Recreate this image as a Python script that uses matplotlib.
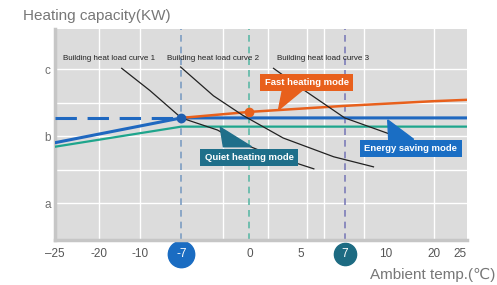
import numpy as np
import matplotlib
matplotlib.use("Agg")
import matplotlib.pyplot as plt
from matplotlib.patches import Polygon

plt.rcParams['font.family'] = ['Liberation Sans', 'DejaVu Sans']

# x axis of the source is not linear: every tick sits at its own spot
tick_temps = [-25, -20, -10, -7, 0, 5, 7, 10, 20, 25]
tick_labels = ['\u201325', '-20', '-10', '-7', '0', '5', '7', '10', '20', '25']
tick_pos = [0, 44, 85, 126, 194, 245, 289, 330, 378, 411]  # px from plot left edge
grid_temps = [-20, -10, -2.7, 1.8, 5.3, 6.05, 8.4, 20]

cap_levels = [1, 2, 3]
cap_labels = ['a', 'b', 'c']

# operating modes
quiet_t = [-25, -7, 25]
quiet_v = [1.84, 2.14, 2.14]
energy_t = [-25, -7, 25]
energy_v = [1.90, 2.27, 2.27]
energy_dash_t = [-25, -7]
energy_dash_v = [2.27, 2.27]
fast_t = [-7, 0, 7, 20, 25]
fast_v = [2.27, 2.36, 2.45, 2.52, 2.54]

# building heat load curves
curve1_t = [-14.5, -9.3, -7, -3.3, -0.93, 2.06, 5.6]
curve1_v = [3.01, 2.68, 2.27, 2.09, 1.90, 1.72, 1.51]
curve2_t = [-7.05, -3.7, -0.7, 3.3, 6.5, 9.1]
curve2_v = [3.03, 2.60, 2.31, 1.97, 1.69, 1.54]
curve3_t = [2.35, 5, 7, 10.4, 17.3]
curve3_v = [3.01, 2.72, 2.27, 2.04, 1.87]

BLUE = '#1f68c0'
TEAL = '#1f6f8a'
GREEN = '#1ea58c'
ORANGE = '#e8601c'


def fwd(t):
    return np.interp(t, tick_temps, tick_pos)


def inv(p):
    return np.interp(p, tick_pos, tick_temps)


fig = plt.figure(figsize=(4.97, 2.85), dpi=100)
ax = fig.add_axes([55 / 497, 1 - 240 / 285, 412 / 497, 211 / 285])
ax.set_xscale('function', functions=(fwd, inv))
ax.set_xlim(-25, 25)
ax.set_ylim(0.448, 3.597)
ax.set_facecolor('#dcdcdc')

for s in ['top', 'right']:
    ax.spines[s].set_visible(False)
for s in ['left', 'bottom']:
    ax.spines[s].set_color('#c6c6c6')
    ax.spines[s].set_linewidth(2.5)

# grid
ax.set_yticks(cap_levels, labels=cap_labels)
ax.set_yticks([1.5, 2.5], minor=True)
ax.grid(axis='y', which='both', color='white', lw=1.0)
for g in grid_temps:
    ax.axvline(g, color='white', lw=1.0, zorder=1)

ax.set_xticks(tick_temps, labels=tick_labels)
ax.xaxis.set_minor_locator(matplotlib.ticker.NullLocator())
ax.tick_params(axis='x', length=0, pad=5.5, labelsize=8.5, labelcolor='#555555')
ax.tick_params(axis='y', which='both', length=0, pad=3, labelsize=8.5, labelcolor='#707070')
for lab in ax.get_xticklabels():
    if lab.get_text() in ('-7', '7'):
        lab.set_color('white')
    if lab.get_text() == '25':
        lab.set_horizontalalignment('right')

# highlighted temperatures
ax.axvline(-7, color='#7c9dc2', lw=1.2, ls=(0, (4, 3)), zorder=2)
ax.axvline(0, color='#5db8a6', lw=1.2, ls=(0, (4, 3)), zorder=2)
ax.axvline(7, color='#7d7db8', lw=1.2, ls=(0, (4, 3)), zorder=2)
xt = ax.get_xaxis_transform()
ax.plot([-7], [-0.066], 'o', ms=19, color='#1a6cc2', transform=xt, clip_on=False, zorder=1.2)
ax.plot([7], [-0.066], 'o', ms=16, color='#1d6b82', transform=xt, clip_on=False, zorder=1.2)

# mode lines
ax.plot(quiet_t, quiet_v, color=GREEN, lw=1.6, zorder=3)
ax.plot(energy_dash_t, energy_dash_v, color=BLUE, lw=2.2, ls=(0, (7, 3.5)), zorder=3)
ax.plot(energy_t, energy_v, color=BLUE, lw=2.2, zorder=3)
ax.plot(fast_t, fast_v, color=ORANGE, lw=1.8, zorder=3.2)
ax.plot([-7], [2.27], 'o', ms=6, color='#1f5fb0', zorder=4)
ax.plot([0], [2.36], 'o', ms=6, color=ORANGE, zorder=4)

for ct, cv in [(curve1_t, curve1_v), (curve2_t, curve2_v), (curve3_t, curve3_v)]:
    ax.plot(ct, cv, color='#222222', lw=0.9, zorder=3.5)

ax.text(-17.6, 3.16, 'Building heat load curve 1', fontsize=5.8, ha='center', va='center', color='#222222')
ax.text(-3.7, 3.16, 'Building heat load curve 2', fontsize=5.8, ha='center', va='center', color='#222222')
ax.text(6.0, 3.16, 'Building heat load curve 3', fontsize=5.8, ha='center', va='center', color='#222222')

# callouts
callouts = [
    ('Fast heating mode', 5.27, 2.80, ORANGE, [(2.84, 2.39), (3.24, 2.70), (5.14, 2.70)]),
    ('Quiet heating mode', -0.05, 1.68, TEAL, [(-3.0, 2.13), (-2.68, 1.84), (0.2, 1.84)]),
    ('Energy saving mode', 15.2, 1.81, '#1a6ec4', [(10.4, 2.24), (10.6, 1.95), (15.8, 1.95)]),
]
for txt, cx, cy, col, tri in callouts:
    ax.add_patch(Polygon(tri, closed=True, color=col, zorder=5))
    ax.text(cx, cy, txt, fontsize=6.8, fontweight='bold', color='white', ha='center', va='center',
            zorder=6, bbox=dict(boxstyle='square,pad=0.45', fc=col, ec='none'))

fig.text(23 / 497, 1 - 16 / 285, 'Heating capacity(KW)', fontsize=11, color='#777777', va='center', ha='left')
fig.text(0.997, 1 - 275 / 285, 'Ambient temp.(\u2103)', fontsize=11, color='#777777', va='center', ha='right')

fig.savefig('out.png', dpi=100)
